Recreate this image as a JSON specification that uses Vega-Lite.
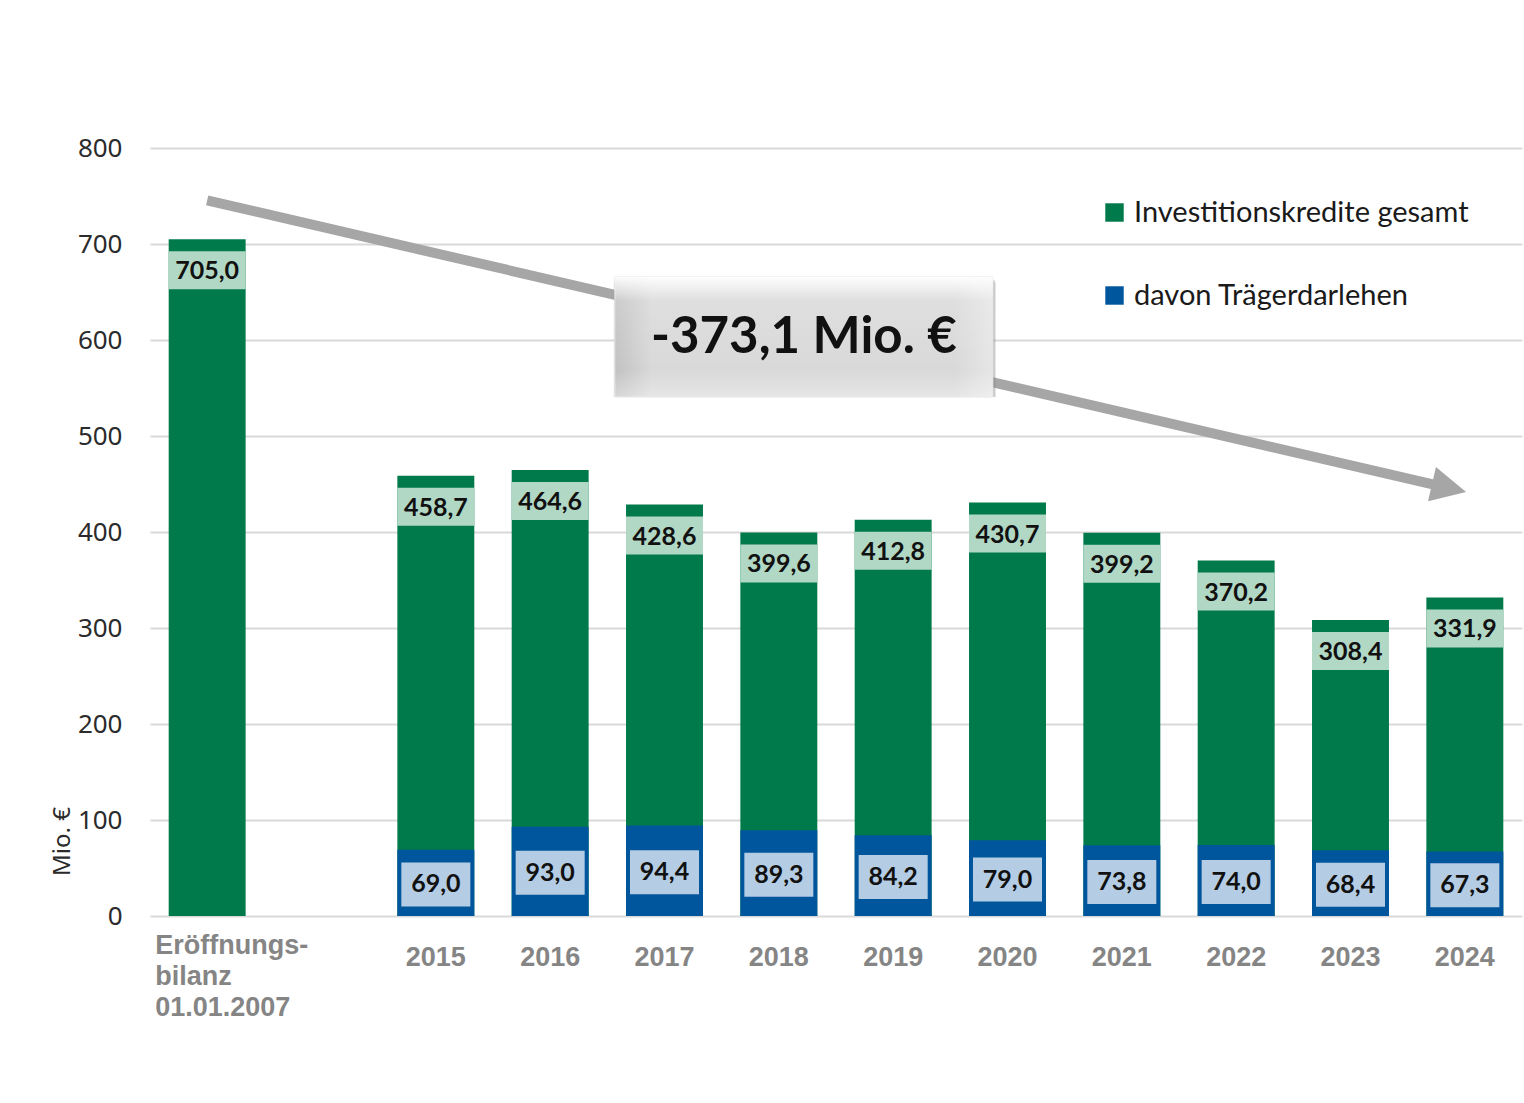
{
  "$schema": "https://vega.github.io/schema/vega-lite/v6.json",
  "width": 1372,
  "height": 768,
  "autosize": {"type": "none"},
  "padding": {"left": 150, "top": 148, "right": 2, "bottom": 187},
  "background": "white",
  "config": {
    "locale": {"number": {"decimal": ",", "thousands": ".", "grouping": [3], "currency": ["", " €"]}},
    "view": {"stroke": null},
    "axis": {"gridColor": "#d9d9d9", "gridWidth": 2}
  },
  "datasets": {
    "bars": [
      {"cat": "Eröffnungsbilanz 01.01.2007", "total": 705.0, "blue": null},
      {"cat": "2015", "total": 458.7, "blue": 69.0},
      {"cat": "2016", "total": 464.6, "blue": 93.0},
      {"cat": "2017", "total": 428.6, "blue": 94.4},
      {"cat": "2018", "total": 399.6, "blue": 89.3},
      {"cat": "2019", "total": 412.8, "blue": 84.2},
      {"cat": "2020", "total": 430.7, "blue": 79.0},
      {"cat": "2021", "total": 399.2, "blue": 73.8},
      {"cat": "2022", "total": 370.2, "blue": 74.0},
      {"cat": "2023", "total": 308.4, "blue": 68.4},
      {"cat": "2024", "total": 331.9, "blue": 67.3}
    ],
    "arrow": [
      {"cat": "Eröffnungsbilanz 01.01.2007", "cat2": "2024", "start": 745.5, "end": 445.8}
    ],
    "box": [
      {"cat": "2018", "top": 665.6, "bottom": 540.6, "mid": 602.0, "label": "-373,1 Mio. €"}
    ]
  },
  "encoding": {
    "x": {
      "field": "cat",
      "type": "nominal",
      "sort": null,
      "scale": {
        "domain": ["Eröffnungsbilanz 01.01.2007", "_gap_", "2015", "2016", "2017", "2018", "2019", "2020", "2021", "2022", "2023", "2024"],
        "paddingInner": 0.327,
        "paddingOuter": 0.1635
      },
      "axis": {
        "title": null,
        "ticks": false,
        "domain": false,
        "grid": false,
        "labelAngle": 0,
        "labelExpr": "datum.value == 'Eröffnungsbilanz 01.01.2007' ? ['Eröffnungs-', 'bilanz', '01.01.2007'] : (datum.value == '_gap_' ? '' : datum.label)",
        "labelAlign": {"condition": {"test": "datum.value == 'Eröffnungsbilanz 01.01.2007'", "value": "left"}, "value": "center"},
        "labelOffset": {"condition": {"test": "datum.value == 'Eröffnungsbilanz 01.01.2007'", "value": -52}, "value": 0},
        "labelPadding": {"condition": {"test": "datum.value == 'Eröffnungsbilanz 01.01.2007'", "value": 16}, "value": 28},
        "labelBaseline": "top",
        "labelFont": "Liberation Sans",
        "labelFontWeight": "bold",
        "labelFontSize": 27,
        "labelColor": "#858585",
        "labelLineHeight": 31,
        "labelOverlap": false,
        "labelBound": false,
        "labelFlush": false,
        "labelLimit": 400
      }
    }
  },
  "layer": [
    {
      "data": {"name": "bars"},
      "mark": {"type": "bar"},
      "encoding": {
        "y": {
          "field": "total",
          "type": "quantitative",
          "scale": {"domain": [0, 800], "nice": false},
          "axis": {
            "title": "Mio. €",
            "values": [0, 100, 200, 300, 400, 500, 600, 700, 800],
            "grid": true,
            "ticks": false,
            "domain": false,
            "labelFont": "Noto Sans",
            "labelFontSize": 26,
            "labelColor": "#2b2b2b",
            "labelPadding": 28,
            "titleFont": "Noto Sans",
            "titleFontSize": 24,
            "titleFontWeight": "normal",
            "titleColor": "#2b2b2b",
            "titleAngle": -90,
            "titleX": -88,
            "titleY": 693,
            "titleAlign": "center",
            "titleBaseline": "middle"
          }
        },
        "color": {
          "datum": "Investitionskredite gesamt",
          "type": "nominal",
          "scale": {"domain": ["Investitionskredite gesamt", "davon Trägerdarlehen"], "range": ["#007a4b", "#00569c"]},
          "legend": {
            "orient": "none",
            "legendX": 950,
            "legendY": 50,
            "title": null,
            "symbolType": "square",
            "symbolSize": 340,
            "symbolStrokeWidth": 0,
            "labelFont": "Lato",
            "labelFontSize": 29,
            "labelColor": "#1a1a1a",
            "labelOffset": 5,
            "rowPadding": 53,
            "padding": 0,
            "labelLimit": 600
          }
        }
      }
    },
    {
      "data": {"name": "bars"},
      "mark": {"type": "tick", "color": "#b1d8c5", "opacity": 1, "thickness": 38, "size": 77, "yOffset": 31},
      "encoding": {"y": {"field": "total", "type": "quantitative"}}
    },
    {
      "data": {"name": "bars"},
      "mark": {"type": "text", "font": "Lato", "fontWeight": "bold", "fontSize": 25, "color": "#111111", "baseline": "middle", "yOffset": 32},
      "encoding": {
        "y": {"field": "total", "type": "quantitative"},
        "text": {"field": "total", "type": "quantitative", "format": ".1f"}
      }
    },
    {
      "data": {"name": "bars"},
      "transform": [{"filter": {"field": "blue", "valid": true}}],
      "mark": {"type": "bar"},
      "encoding": {
        "y": {"field": "blue", "type": "quantitative"},
        "color": {"datum": "davon Trägerdarlehen", "type": "nominal"}
      }
    },
    {
      "data": {"name": "bars"},
      "transform": [{"filter": {"field": "blue", "valid": true}}],
      "mark": {"type": "tick", "color": "#b4cde4", "opacity": 1, "thickness": 44, "size": 69, "yOffset": 1.5},
      "encoding": {"y": {"field": "blue", "type": "quantitative", "stack": "zero", "bandPosition": 0.5}}
    },
    {
      "data": {"name": "bars"},
      "transform": [{"filter": {"field": "blue", "valid": true}}],
      "mark": {"type": "text", "font": "Lato", "fontWeight": "bold", "fontSize": 25, "color": "#111111", "baseline": "middle", "yOffset": 1.5},
      "encoding": {
        "y": {"field": "blue", "type": "quantitative", "stack": "zero", "bandPosition": 0.5},
        "text": {"field": "blue", "type": "quantitative", "format": ".1f"}
      }
    },
    {
      "data": {"name": "arrow"},
      "mark": {"type": "rule", "color": "#a6a6a6", "strokeWidth": 10, "strokeCap": "butt", "x2Offset": -15.8},
      "encoding": {
        "x2": {"field": "cat2"},
        "y": {"field": "start", "type": "quantitative"},
        "y2": {"field": "end"}
      }
    },
    {
      "data": {"name": "arrow"},
      "mark": {"type": "point", "shape": "M1,0L-1,-1L-1,1Z", "size": 1225, "angle": 13, "filled": true, "color": "#a6a6a6", "opacity": 1, "strokeWidth": 0, "xOffset": -15.8},
      "encoding": {
        "x": {"field": "cat2", "type": "nominal"},
        "y": {"field": "end", "type": "quantitative"}
      }
    },
    {
      "data": {"name": "box"},
      "mark": {"type": "bar", "width": 382, "color": "#8a8a8a", "opacity": 0.25, "xOffset": 26, "yOffset": 5},
      "encoding": {
        "y": {"field": "top", "type": "quantitative"},
        "y2": {"field": "bottom"}
      }
    },
    {
      "data": {"name": "box"},
      "mark": {"type": "bar", "width": 380, "color": "#8a8a8a", "opacity": 0.3, "xOffset": 26, "yOffset": 3},
      "encoding": {
        "y": {"field": "top", "type": "quantitative"},
        "y2": {"field": "bottom"}
      }
    },
    {
      "data": {"name": "box"},
      "mark": {
        "type": "bar",
        "width": 378,
        "xOffset": 25,
        "stroke": "#e4e4e4",
        "strokeWidth": 1,
        "color": {
          "gradient": "linear", "x1": 0, "y1": 0, "x2": 1, "y2": 0,
          "stops": [
            {"offset": 0, "color": "#c2c2c2"},
            {"offset": 0.1, "color": "#d9d9d9"},
            {"offset": 0.9, "color": "#d9d9d9"},
            {"offset": 1, "color": "#e6e6e6"}
          ]
        }
      },
      "encoding": {
        "y": {"field": "top", "type": "quantitative"},
        "y2": {"field": "bottom"}
      }
    },
    {
      "data": {"name": "box"},
      "mark": {
        "type": "bar",
        "width": 378,
        "xOffset": 25,
        "color": {
          "gradient": "linear", "x1": 0, "y1": 0, "x2": 0, "y2": 1,
          "stops": [
            {"offset": 0, "color": "rgba(255,255,255,0.95)"},
            {"offset": 0.2, "color": "rgba(255,255,255,0.15)"},
            {"offset": 0.78, "color": "rgba(255,255,255,0)"},
            {"offset": 1, "color": "rgba(255,255,255,0.35)"}
          ]
        }
      },
      "encoding": {
        "y": {"field": "top", "type": "quantitative"},
        "y2": {"field": "bottom"}
      }
    },
    {
      "data": {"name": "box"},
      "mark": {"type": "text", "font": "Lato", "fontWeight": "bold", "fontSize": 51, "color": "#111111", "baseline": "middle", "xOffset": 25},
      "encoding": {
        "y": {"field": "mid", "type": "quantitative"},
        "text": {"field": "label", "type": "nominal"}
      }
    }
  ]
}
